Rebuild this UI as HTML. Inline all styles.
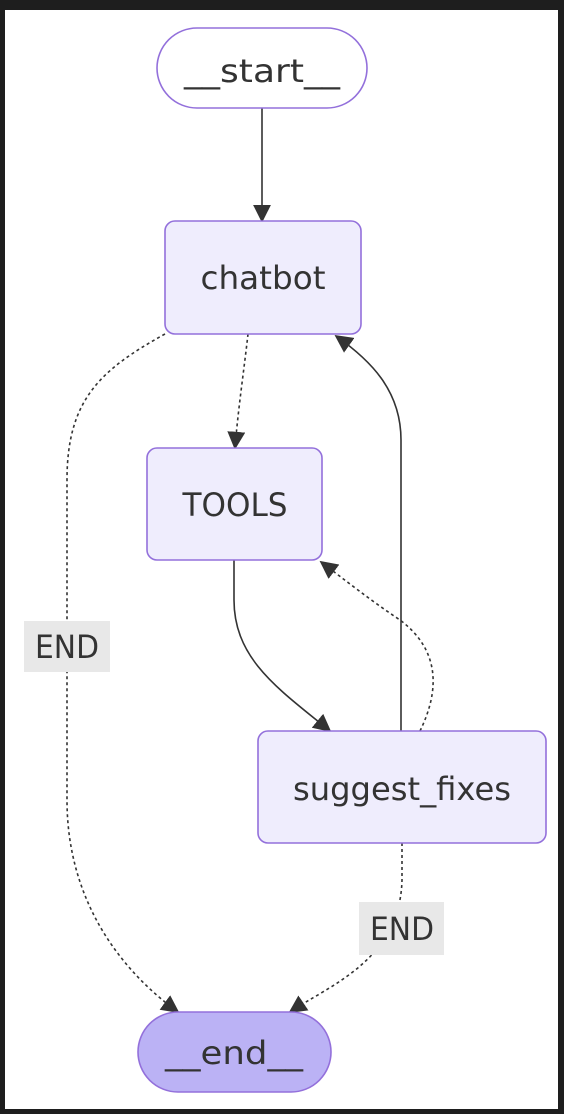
<!DOCTYPE html>
<html><head><meta charset="utf-8"><style>
html,body{margin:0;padding:0;background:#1e1e1e;}
svg{display:block;}
text{font-family:"DejaVu Sans","Liberation Sans",sans-serif;font-size:32px;fill:#333;}
</style></head><body>
<svg width="564" height="1114" viewBox="0 0 564 1114" xmlns="http://www.w3.org/2000/svg">
<defs>
<marker id="a" viewBox="0 0 10 10" refX="9" refY="5" markerWidth="18" markerHeight="18" markerUnits="userSpaceOnUse" orient="auto">
<path d="M0,0 L10,5 L0,10 z" fill="#333"/>
</marker>
</defs>
<rect x="5" y="10" width="553" height="1099" fill="#fff"/>
<g fill="none" stroke="#333" stroke-width="1.6">
<path d="M262,108 L262,221" marker-end="url(#a)"/>
<path d="M248,334 C244,370 238,410 235,448" stroke-dasharray="3,3" marker-end="url(#a)"/>
<path d="M165,334 C100,370 67,400 67,480 L67,800 C67,900 120,970 178,1012" stroke-dasharray="3,3" marker-end="url(#a)"/>
<path d="M234,560 L234,600 C234,660 280,690 330,731" marker-end="url(#a)"/>
<path d="M401,731 L401,440 C401,390 370,360 336,336" marker-end="url(#a)"/>
<path d="M420,731 C440,690 440,650 400,620 C370,600 345,580 321,562" stroke-dasharray="3,3" marker-end="url(#a)"/>
<path d="M402,843 L402,880 C400,960 330,985 290,1012" stroke-dasharray="3,3" marker-end="url(#a)"/>
</g>
<g stroke="#9370db" stroke-width="1.6">
<rect x="157" y="28" width="210" height="80" rx="40" fill="#fff"/>
<rect x="165" y="221" width="196" height="113" rx="10" fill="#efedfd"/>
<rect x="147" y="448" width="175" height="112" rx="10" fill="#efedfd"/>
<rect x="258" y="731" width="288" height="112" rx="10" fill="#efedfd"/>
<rect x="138" y="1012" width="193" height="80" rx="40" fill="#bbb2f5"/>
</g>
<rect x="24" y="621" width="86" height="51" fill="#e8e8e8"/>
<rect x="359" y="902" width="85" height="53" fill="#e8e8e8"/>
<text x="262" y="82" text-anchor="middle" textLength="156" lengthAdjust="spacingAndGlyphs">__start__</text>
<text x="263" y="289" text-anchor="middle" textLength="125" lengthAdjust="spacingAndGlyphs">chatbot</text>
<text x="235" y="516" text-anchor="middle" textLength="105" lengthAdjust="spacingAndGlyphs">TOOLS</text>
<text x="402" y="800" text-anchor="middle" textLength="218" lengthAdjust="spacingAndGlyphs">suggest_fixes</text>
<text x="234" y="1064" text-anchor="middle" textLength="138" lengthAdjust="spacingAndGlyphs">__end__</text>
<text x="67" y="658" text-anchor="middle" textLength="64" lengthAdjust="spacingAndGlyphs">END</text>
<text x="402" y="940" text-anchor="middle" textLength="64" lengthAdjust="spacingAndGlyphs">END</text>
</svg>
</body></html>
